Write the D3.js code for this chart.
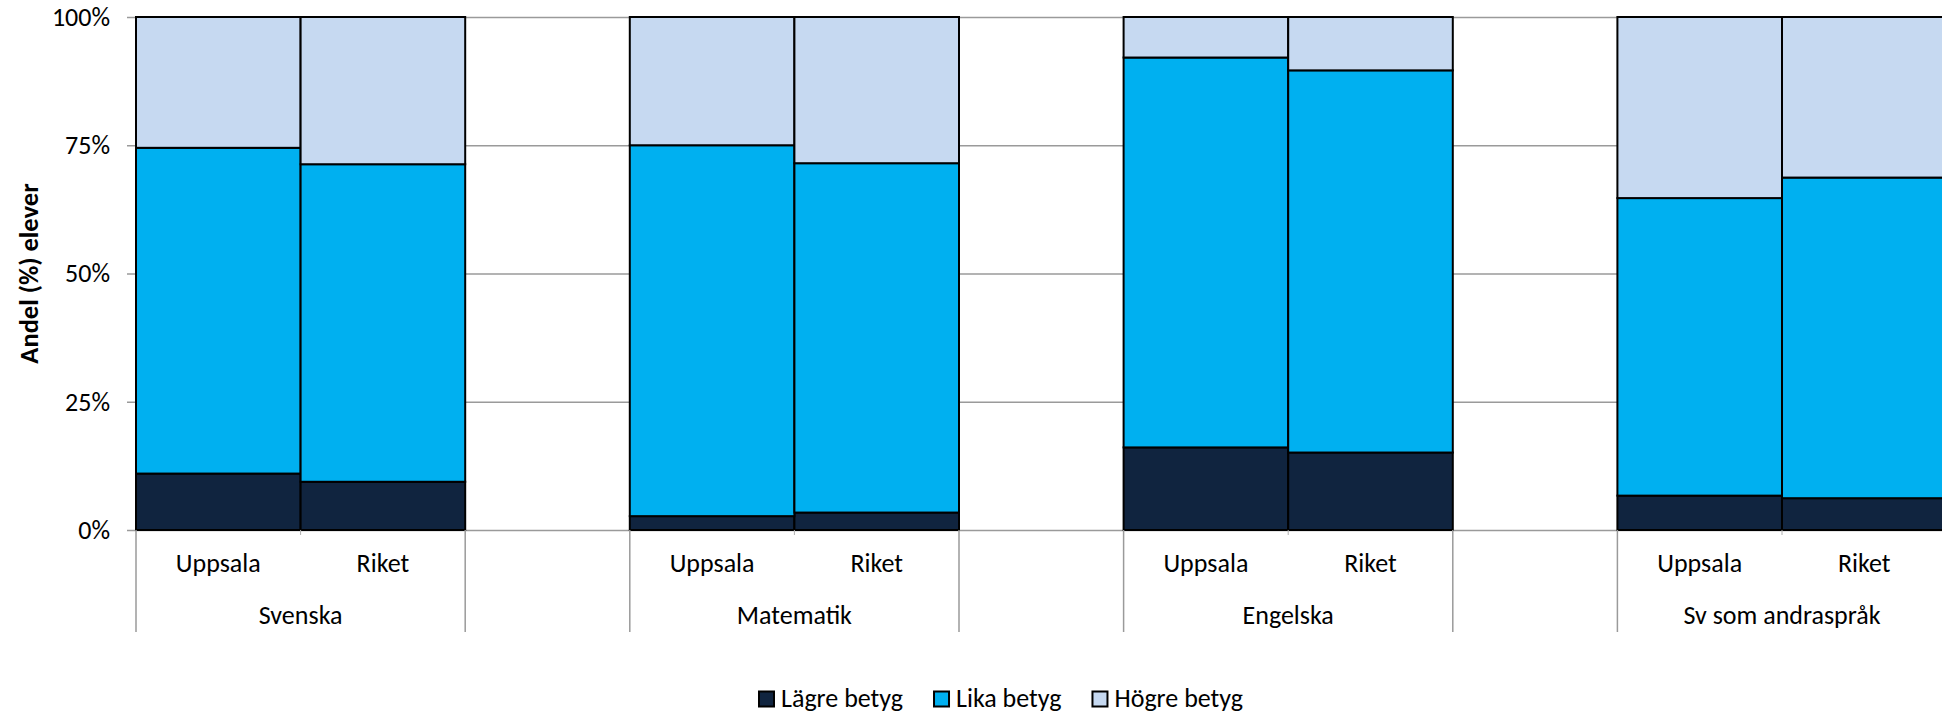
<!DOCTYPE html>
<html>
<head>
<meta charset="utf-8">
<script src="https://cdn.jsdelivr.net/npm/d3@7"></script>
<style>
  html, body { margin: 0; padding: 0; background: #fff; }
  svg { display: block; }
  text { font-family: Carlito, Calibri, Lato, "Liberation Sans", sans-serif; fill: #000; }
</style>
</head>
<body>
<script>
// ---- Data ----
const groups = ["Svenska", "Matematik", "Engelska", "Sv som andraspråk"];
const regions = ["Uppsala", "Riket"];
const seriesNames = ["Lägre betyg", "Lika betyg", "Högre betyg"];
// values per bar, order: Svenska U, Svenska R, Matematik U, Matematik R, Engelska U, Engelska R, SvA U, SvA R
const lagre = [11.0, 9.4, 2.7, 3.4, 16.1, 15.1, 6.7, 6.2];
const lika  = [63.5, 61.9, 72.3, 68.1, 76.0, 74.5, 58.0, 62.5];
const hogre = [25.5, 28.7, 25.0, 28.5, 7.9, 10.4, 35.3, 31.3];
const yTicks = [0, 25, 50, 75, 100];
const yTitle = "Andel (%) elever";
const colors = ["#10243F", "#00B0F0", "#C6D9F1"];

// ---- Layout ----
const W = 1942, H = 713;
const plotLeft = 136, slotW = 164.6, plotTop = 17, plotBottom = 530;
const fs = 26;

// build slot domain: two bars per group, empty spacer slot between groups
const slots = [];
const records = [];
let idx = 0;
groups.forEach((g, gi) => {
  regions.forEach((r) => {
    const key = g + "|" + r;
    slots.push(key);
    records.push({ key, group: g, region: r,
      [seriesNames[0]]: lagre[idx], [seriesNames[1]]: lika[idx], [seriesNames[2]]: hogre[idx] });
    idx++;
  });
  if (gi < groups.length - 1) slots.push("gap" + gi);
});

const x = d3.scaleBand().domain(slots).range([plotLeft, plotLeft + slotW * slots.length]).padding(0);
const y = d3.scaleLinear().domain([0, 100]).range([plotBottom, plotTop]);
const color = d3.scaleOrdinal().domain(seriesNames).range(colors);

const svg = d3.select("body").append("svg").attr("width", W).attr("height", H);

// gridlines + y ticks
const yAxis = d3.axisLeft(y).tickValues(yTicks).tickFormat(d => d + "%")
  .tickSizeInner(-(W - plotLeft)).tickSizeOuter(0).tickPadding(26);
const gy = svg.append("g").attr("transform", `translate(${plotLeft},0)`).call(yAxis);
gy.select(".domain").attr("stroke", "#9a9a9a").attr("stroke-width", 1.5);
gy.selectAll(".tick line").attr("stroke", "#9a9a9a").attr("stroke-width", 1.5).attr("x1", -9);
gy.selectAll(".tick text").attr("font-size", fs).attr("fill", "#000").attr("x", -26)
  .style("font-family", "Carlito, Calibri, Lato, 'Liberation Sans', sans-serif");

// stacked bars
const stack = d3.stack().keys(seriesNames);
const layers = stack(records);
svg.append("g").selectAll("g").data(layers).join("g")
  .attr("fill", d => color(d.key))
  .selectAll("rect").data(d => d).join("rect")
  .attr("x", d => x(d.data.key))
  .attr("width", x.bandwidth())
  .attr("y", d => y(d[1]))
  .attr("height", d => y(d[0]) - y(d[1]))
  .attr("stroke", "#000").attr("stroke-width", 2);

// category axis (two levels)
const gx = svg.append("g");
const sepBottom = 632;
const boundaries = [];
groups.forEach((g) => {
  const first = x(g + "|" + regions[0]);
  const last = x(g + "|" + regions[regions.length - 1]) + x.bandwidth();
  boundaries.push(first, last);
});
gx.selectAll("line.sep").data(boundaries.filter(b => b < W)).join("line")
  .attr("class", "sep")
  .attr("x1", d => d).attr("x2", d => d)
  .attr("y1", plotBottom).attr("y2", sepBottom)
  .attr("stroke", "#9a9a9a").attr("stroke-width", 1.5);
gx.selectAll("line.inner").data(groups.map(g => x(g + "|" + regions[1]))).join("line")
  .attr("class", "inner")
  .attr("x1", d => d).attr("x2", d => d)
  .attr("y1", plotBottom).attr("y2", plotBottom + 5)
  .attr("stroke", "#b0b0b0").attr("stroke-width", 1);

// region labels
gx.selectAll("text.reg").data(records).join("text")
  .attr("class", "reg")
  .attr("x", d => x(d.key) + x.bandwidth() / 2)
  .attr("y", 572)
  .attr("text-anchor", "middle")
  .attr("font-size", fs)
  .text(d => d.region);

// group labels
gx.selectAll("text.grp").data(groups).join("text")
  .attr("class", "grp")
  .attr("x", g => (x(g + "|" + regions[0]) + x(g + "|" + regions[1]) + x.bandwidth()) / 2)
  .attr("y", 624)
  .attr("text-anchor", "middle")
  .attr("font-size", fs)
  .text(g => g);

// y-axis title
svg.append("text")
  .attr("transform", `translate(28,${(plotTop + plotBottom) / 2}) rotate(-90)`)
  .attr("text-anchor", "middle")
  .attr("dy", "0.36em")
  .attr("font-size", 26.5)
  .attr("font-weight", "bold")
  .text(yTitle);

// legend
const legend = svg.append("g");
const items = legend.selectAll("g").data(seriesNames).join("g");
items.append("rect")
  .attr("width", 15).attr("height", 15)
  .attr("y", 691.5)
  .attr("fill", d => color(d))
  .attr("stroke", "#000").attr("stroke-width", 2);
items.append("text")
  .attr("x", 22).attr("y", 707)
  .attr("font-size", fs)
  .text(d => d);
let cx = 0;
const offsets = [];
items.each(function () {
  const w = this.querySelector("text").getComputedTextLength();
  offsets.push(cx);
  cx += 22 + w + 31;
});
const total = cx - 31;
const startX = 1001 - total / 2;
items.attr("transform", (d, i) => `translate(${startX + offsets[i]},0)`);
</script>
</body>
</html>
